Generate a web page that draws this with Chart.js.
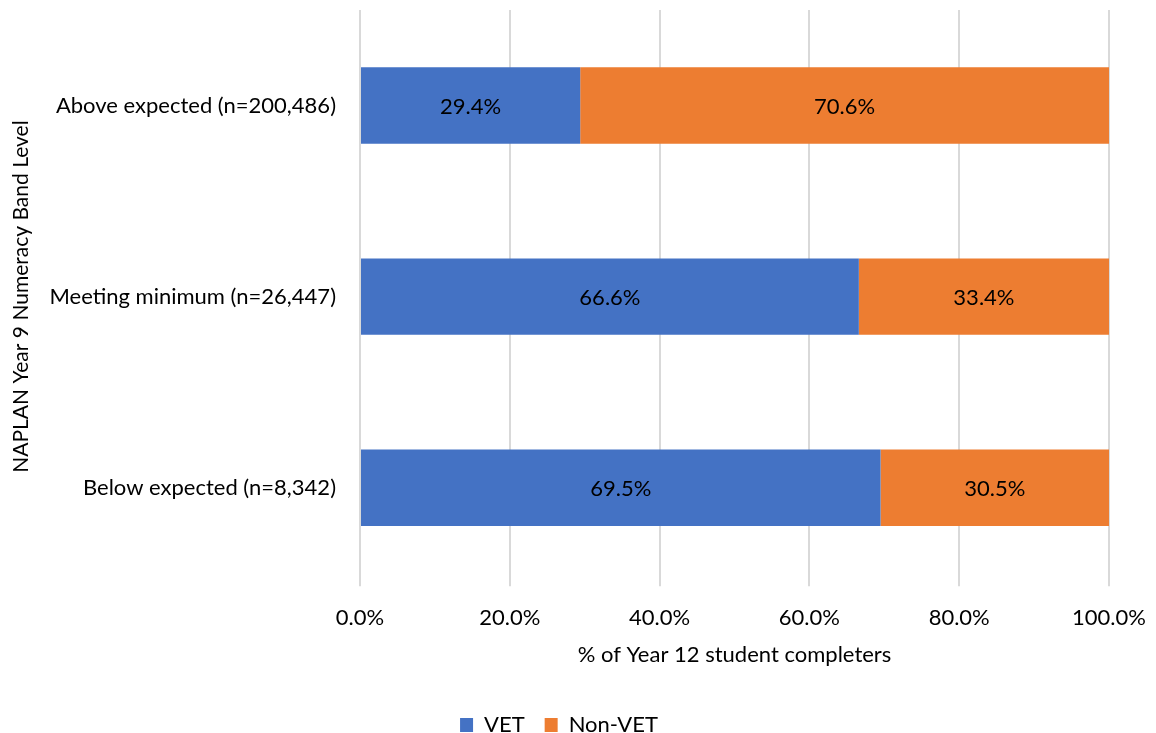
<!DOCTYPE html>
<html>
<head>
<meta charset="utf-8">
<script src="https://cdn.jsdelivr.net/npm/chart.js@4.4.0/dist/chart.umd.min.js"></script>
<style>
  html, body { margin: 0; padding: 0; background: #fff; }
  #wrap { width: 1156px; height: 733px; }
</style>
</head>
<body>
<div id="wrap"><canvas id="myChart" width="1156" height="733"></canvas></div>
<script>
const categories = ['Above expected (n=200,486)', 'Meeting minimum (n=26,447)', 'Below expected (n=8,342)'];
const vetValues = [29.4, 66.6, 69.5];
const nonVetValues = [70.6, 33.4, 30.5];
const xTicks = [0, 20, 40, 60, 80, 100];

const FONT = 'Lato, "Open Sans", sans-serif';

// labels drawn in the middle of each bar segment
const barLabels = {
  id: 'barLabels',
  afterDatasetsDraw(chart) {
    const ctx = chart.ctx;
    ctx.save();
    ctx.font = '22px ' + FONT;
    ctx.fillStyle = '#000';
    ctx.textAlign = 'center';
    ctx.textBaseline = 'middle';
    chart.data.datasets.forEach((ds, i) => {
      chart.getDatasetMeta(i).data.forEach((bar, j) => {
        const p = bar.getProps(['x', 'y', 'base'], true);
        ctx.fillText(ds.data[j].toFixed(1) + '%', (p.x + p.base) / 2, p.y + 1);
      });
    });
    ctx.restore();
  }
};

new Chart(document.getElementById('myChart').getContext('2d'), {
  type: 'bar',
  data: {
    labels: categories,
    datasets: [
      { label: 'VET', data: vetValues, backgroundColor: '#4472c4', categoryPercentage: 1, barPercentage: 0.4 },
      { label: 'Non-VET', data: nonVetValues, backgroundColor: '#ed7d31', categoryPercentage: 1, barPercentage: 0.4 }
    ]
  },
  options: {
    indexAxis: 'y',
    responsive: false,
    animation: false,
    layout: { padding: { top: 10, right: 47, left: 9, bottom: -13 } },
    plugins: {
      legend: {
        position: 'bottom',
        labels: { font: { family: FONT, size: 22 }, color: '#000', boxWidth: 13, boxHeight: 14, padding: 20 }
      },
      tooltip: { enabled: false }
    },
    scales: {
      x: {
        stacked: true,
        min: 0,
        max: 100,
        afterBuildTicks: axis => { axis.ticks = xTicks.map(v => ({ value: v })); },
        afterFit: axis => { axis.paddingLeft = 0; axis.paddingRight = 0; },
        ticks: {
          callback: v => v.toFixed(1) + '%',
          font: { family: FONT, size: 22 },
          color: '#000',
          padding: 19
        },
        grid: { color: '#d9d9d9', lineWidth: 2, tickLength: 3 },
        border: { display: false },
        title: { display: true, text: '% of Year 12 student completers', font: { family: FONT, size: 22 }, color: '#000', padding: { top: -9, bottom: 26 } }
      },
      y: {
        stacked: true,
        afterFit: axis => { axis.paddingTop = 0; axis.paddingBottom = 0; axis.width = 351; },
        ticks: { font: { family: FONT, size: 22 }, color: '#000', padding: 24 },
        grid: { display: false, drawTicks: false },
        border: { display: false },
        title: { display: true, text: 'NAPLAN Year 9 Numeracy Band Level', font: { family: FONT, size: 21 }, color: '#000', padding: { top: 0, bottom: 0 } }
      }
    }
  },
  plugins: [barLabels]
});
</script>
</body>
</html>
